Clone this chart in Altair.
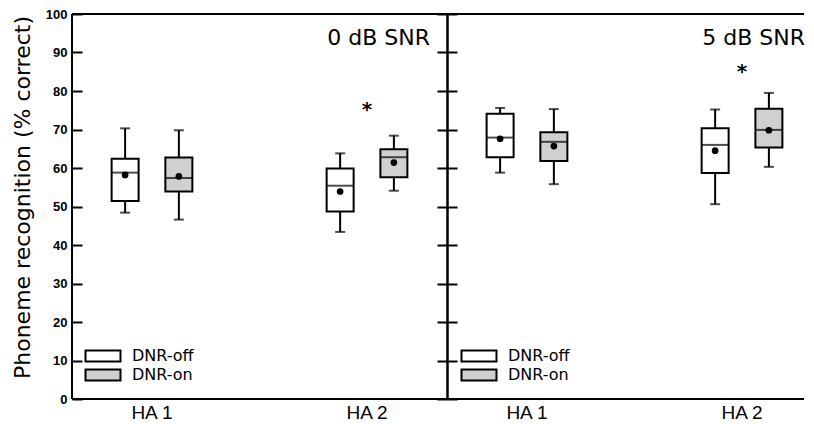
import altair as alt
import pandas as pd

# ---- data ----
panels = ["0 dB SNR", "5 dB SNR"]
aids = ["HA 1", "HA 2"]
dnr = ["DNR-off", "DNR-on"]

box_snr = ["0 dB SNR"] * 4 + ["5 dB SNR"] * 4
box_aid = ["HA 1", "HA 1", "HA 2", "HA 2"] * 2
box_dnr = ["DNR-off", "DNR-on"] * 4
whisk_lo = [48.4, 46.6, 43.4, 54.1, 58.8, 55.8, 50.6, 60.3]
q1 = [51.4, 53.9, 48.7, 57.6, 62.8, 61.8, 58.7, 65.3]
median = [58.8, 57.4, 55.4, 62.8, 67.9, 66.8, 66.0, 69.9]
q3 = [62.4, 62.7, 59.9, 64.9, 74.1, 69.3, 70.3, 75.4]
whisk_hi = [70.3, 69.8, 63.8, 68.4, 75.6, 75.3, 75.2, 79.5]
mean = [58.2, 57.8, 53.9, 61.4, 67.6, 65.7, 64.5, 69.8]

star_snr = ["0 dB SNR", "5 dB SNR"]
star_aid = ["HA 2", "HA 2"]
star_y = [75.2, 85.2]

df = pd.DataFrame(dict(snr=box_snr, aid=box_aid, dnr=box_dnr, lo=whisk_lo,
                       q1=q1, med=median, q3=q3, hi=whisk_hi, mean=mean))
stars = pd.DataFrame(dict(snr=star_snr, aid=star_aid, y=star_y, t=["*", "*"]))
titles = pd.DataFrame(dict(snr=panels, label=panels))
aid_labels = pd.DataFrame(dict(aid=aids))

H = 385
PANEL_W = 375
FILL = ["white", "#d0d0d0"]
TICKS = list(range(0, 101, 10))


def frame_rule(**enc):
    return alt.Chart(pd.DataFrame({"a": [0]})).mark_rule(
        color="black", strokeWidth=2).encode(**enc)


def make_panel(name, width, first, legend_x):
    d = df[df.snr == name]
    s = stars[stars.snr == name]
    tt = titles[titles.snr == name]

    xscale = alt.Scale(domain=aids, paddingInner=0.5, paddingOuter=0.122,
                       range=[0, PANEL_W])
    X = alt.X("aid:N", scale=xscale, axis=None)
    XO = alt.XOffset("dnr:N", scale=alt.Scale(domain=dnr, paddingInner=0, paddingOuter=0))
    yscale = alt.Scale(domain=[0, 100], nice=False)

    if first:
        ax_a = alt.Axis(orient="left", values=TICKS, offset=-10, tickSize=10,
                        tickWidth=2, tickColor="black", domain=False, grid=False,
                        labelFont="Liberation Sans", labelFontWeight="bold", labelFontSize=13,
                        labelColor="black", labelPadding=5,
                        title="Phoneme recognition (% correct)", titleFont="DejaVu Sans",
                        titleFontSize=22, titleFontWeight="normal", titleColor="black",
                        titlePadding=11, titleY=183, titleAnchor="middle")
        ax_b = alt.Axis(orient="right", values=TICKS, tickSize=10, grid=False,
                        tickWidth=2, tickColor="black", domain=True, domainColor="black",
                        domainWidth=2, labels=False, title=None)
    else:
        ax_a = alt.Axis(orient="left", values=TICKS, tickSize=10, grid=False,
                        tickWidth=2, tickColor="black", domain=True, domainColor="black",
                        domainWidth=2, labels=False, title=None)
        ax_b = None

    base = alt.Chart(d)
    whisk = base.mark_rule(color="black", strokeWidth=2).encode(
        x=X, xOffset=XO, y=alt.Y("lo:Q", scale=yscale, axis=ax_a), y2="hi:Q")
    box = base.mark_bar(size=27, stroke="black", strokeWidth=2).encode(
        x=X, xOffset=XO, y=alt.Y("q1:Q", scale=yscale, axis=ax_b), y2="q3:Q",
        fill=alt.Fill("dnr:N", scale=alt.Scale(domain=dnr, range=FILL),
                      legend=alt.Legend(title=None, orient="none", legendX=legend_x, legendY=334,
                                        symbolType="M-3.18,-1H3.18V1H-3.18Z", symbolSize=121,
                                        symbolStrokeColor="black", symbolStrokeWidth=2,
                                        labelFont="DejaVu Sans", labelFontSize=16,
                                        labelColor="black", labelOffset=21, rowPadding=-1,
                                        padding=0)))
    med = base.mark_tick(color="black", size=27, thickness=2).encode(
        x=X, xOffset=XO, y=alt.Y("med:Q", scale=yscale, axis=None))
    cap_hi = base.mark_tick(color="black", size=10, thickness=2).encode(
        x=X, xOffset=XO, y=alt.Y("hi:Q", scale=yscale, axis=None))
    cap_lo = base.mark_tick(color="black", size=10, thickness=2).encode(
        x=X, xOffset=XO, y=alt.Y("lo:Q", scale=yscale, axis=None))
    dot = base.mark_circle(color="black", size=45, opacity=1).encode(
        x=X, xOffset=XO, y=alt.Y("mean:Q", scale=yscale, axis=None))
    star = alt.Chart(s).mark_text(font="DejaVu Sans", fontWeight="bold", fontSize=20,
                                  baseline="middle", dy=1, color="black").encode(
        x=X, y=alt.Y("y:Q", scale=yscale, axis=None), text="t:N")
    ttl = alt.Chart(tt).mark_text(font="DejaVu Sans", fontSize=22, align="right",
                                  baseline="alphabetic", color="black").encode(
        x=alt.value(PANEL_W - 17), y=alt.value(31), text="label:N")
    xlab = alt.Chart(aid_labels).mark_text(font="Liberation Sans", fontSize=19,
                                           baseline="top", color="black").encode(
        x=X, y=alt.value(H + 5), text="aid:N")

    layers = [whisk, box, med, cap_hi, cap_lo, dot, star, ttl, xlab,
              frame_rule(x=alt.value(0), x2=alt.value(width), y=alt.value(0)),
              frame_rule(x=alt.value(0), x2=alt.value(width), y=alt.value(H))]
    if first:
        layers.append(frame_rule(x=alt.value(0), y=alt.value(0), y2=alt.value(H)))

    return alt.layer(*layers).resolve_axis(y="independent").properties(
        width=width, height=H)


left = make_panel("0 dB SNR", PANEL_W, True, 23)
right = make_panel("5 dB SNR", 357, False, 24)

chart = alt.hconcat(left, right, spacing=0, bounds="flush").resolve_scale(
    fill="independent").resolve_legend(fill="independent").properties(
    padding={"left": 3, "top": 0, "right": 0, "bottom": 0}, background="white"
).configure_view(stroke=None)

chart.save("out.html", embed_options={"renderer": "svg", "actions": False})
